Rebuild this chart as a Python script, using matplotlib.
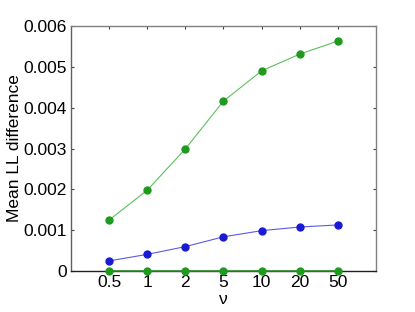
import matplotlib
matplotlib.use("Agg")
import matplotlib.pyplot as plt

plt.rcParams['font.family'] = ['Liberation Sans', 'DejaVu Sans']

categories = ["0.5", "1", "2", "5", "10", "20", "50"]
green_top = [0.00125, 0.00198, 0.00299, 0.00416, 0.00490, 0.00531, 0.00563]
blue_mid = [0.00025, 0.00041, 0.00060, 0.00084, 0.00099, 0.00108, 0.00113]
green_zero = [0, 0, 0, 0, 0, 0, 0]
yticks = [0, 0.001, 0.002, 0.003, 0.004, 0.005, 0.006]
ytick_labels = ["0", "0.001", "0.002", "0.003", "0.004", "0.005", "0.006"]

fig = plt.figure(figsize=(4.15, 3.12), dpi=100)
ax = fig.add_axes([0.171, 0.131, 0.735, 0.786])

x = list(range(1, len(categories) + 1))
gline = "#5cc05c"
gmark = "#1e9a1e"
bline = "#5a5ae6"
bmark = "#1a1ad2"
ax.plot(x, green_top, '-', color=gline, lw=0.8, marker='o', ms=5,
        mfc=gmark, mec=gmark, zorder=4)
ax.plot(x, blue_mid, '-', color=bline, lw=0.8, marker='o', ms=5,
        mfc=bmark, mec=bmark, zorder=4)
ax.plot(x, green_zero, '-', color="#2a8a2a", lw=1.2, marker='o', ms=5,
        mfc=gmark, mec=gmark, zorder=4, clip_on=False)

ax.set_xlim(0, 8)
ax.set_ylim(0, 0.006)
ax.set_xticks(x)
ax.set_xticklabels(categories)
ax.set_yticks(yticks)
ax.set_yticklabels(ytick_labels)
ax.tick_params(direction='in', top=True, right=True, labelsize=12.5, length=2.5,
               color='#404040', pad=3)
for s in ax.spines.values():
    s.set_color('#808080')
    s.set_linewidth(1.0)
ax.spines['bottom'].set_color('#202020')
ax.spines['left'].set_color('#606060')
ax.set_ylabel("Mean LL difference", fontsize=12.5, labelpad=1)
ax.set_xlabel("ν", fontsize=12.5, labelpad=1)

fig.savefig("out.png", dpi=100)
